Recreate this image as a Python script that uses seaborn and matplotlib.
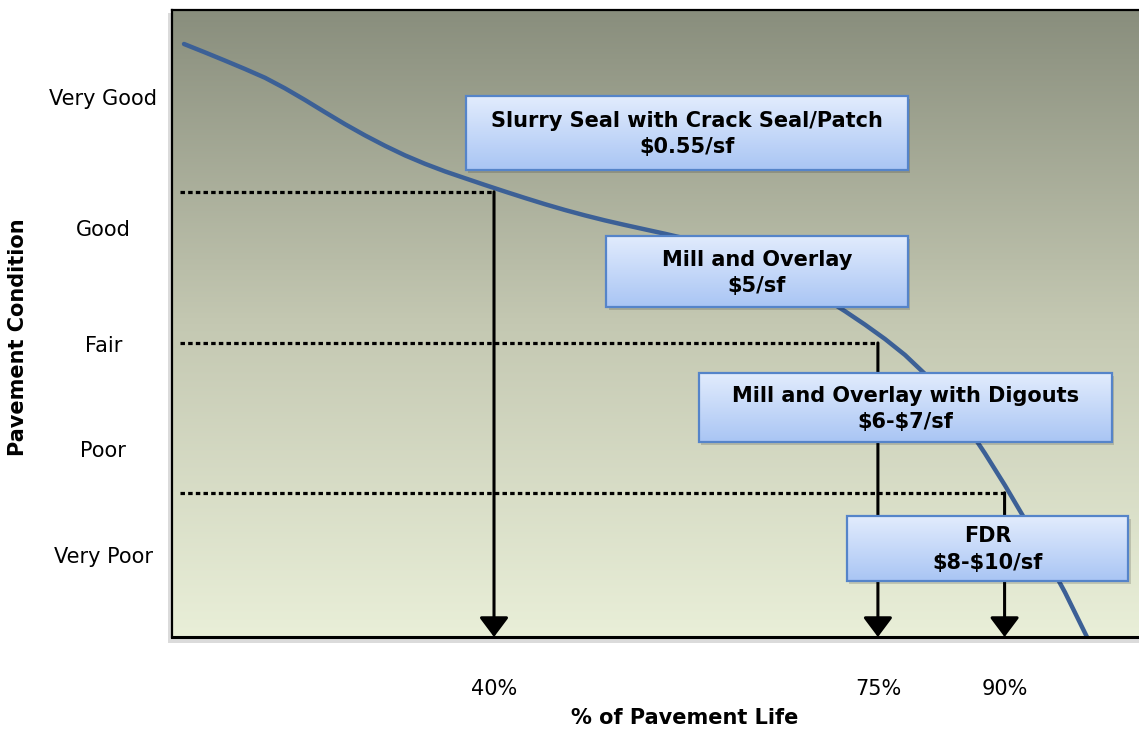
import numpy as np
import pandas as pd
import matplotlib
matplotlib.use('Agg')
import matplotlib.pyplot as plt
import seaborn as sns
from matplotlib.colors import LinearSegmentedColormap
from matplotlib.patches import Rectangle

# deterioration curve (x = position along life axis, y = condition)
life_pos = [1.24, 3.41, 5.48, 7.55, 9.62, 11.69, 13.75, 15.82, 17.89, 19.96, 22.03, 24.10,
            26.16, 28.23, 30.30, 32.37, 34.44, 36.50, 38.57, 40.64, 42.71, 44.78, 46.85,
            48.91, 50.98, 53.05, 55.12, 57.19, 59.26, 61.32, 63.39, 65.46, 67.53, 69.60,
            71.66, 73.73, 75.80, 77.87, 79.94, 82.01, 84.07, 86.14, 88.21, 90.28, 92.35, 94.62]
condition = [94.58, 93.24, 91.93, 90.59, 89.19, 87.50, 85.65, 83.70, 81.79, 80.00, 78.34, 76.81,
             75.47, 74.26, 73.17, 72.09, 71.04, 70.02, 69.03, 68.10, 67.24, 66.44, 65.71,
             65.01, 64.31, 63.57, 62.68, 61.63, 60.41, 59.04, 57.51, 55.82, 53.97, 51.96,
             49.82, 47.53, 44.98, 41.95, 38.28, 34.07, 29.28, 24.18, 18.76, 13.01, 7.11, 0.0]

condition_labels = ['Very Good', 'Good', 'Fair', 'Poor', 'Very Poor']
condition_pos = [86.1, 65.2, 46.7, 30.0, 13.1]

threshold_labels = ['40%', '75%', '90%']
threshold_pos = [33.3, 73.0, 86.1]
threshold_level = [71.0, 46.9, 23.0]

treatments = ['Slurry Seal with Crack Seal/Patch', 'Mill and Overlay',
              'Mill and Overlay with Digouts', 'FDR']
costs = ['$0.55/sf', '$5/sf', '$6-$7/sf', '$8-$10/sf']

df = pd.DataFrame({'life': life_pos, 'condition': condition})

sns.set_style('white')
plt.rcParams['font.family'] = ['DejaVu Sans']
plt.rcParams['text.color'] = 'black'
plt.rcParams['xtick.color'] = 'black'
plt.rcParams['ytick.color'] = 'black'

fig = plt.figure(figsize=(11.39, 7.30), dpi=100)
ax = fig.add_axes([172 / 1139, 93 / 730, 967 / 1139, 627 / 730])

# soft shadow behind the plot frame
fig.patches.append(Rectangle((168 / 1139, 87 / 730), 971 / 1139, 630 / 730,
                             transform=fig.transFigure, facecolor='#c4c4c4',
                             edgecolor='none', alpha=0.6, zorder=-1))

# background gradient
bg_cmap = LinearSegmentedColormap.from_list(
    'bg', [(0, '#e9efd8'), (0.5, '#c4c8b2'), (1, '#898e7d')])
grad = np.linspace(0, 1, 256).reshape(-1, 1)
ax.imshow(grad, extent=[0, 100, 0, 100], origin='lower', aspect='auto',
          cmap=bg_cmap, zorder=0)

sns.lineplot(data=df, x='life', y='condition', color='#3c6096', lw=3.2,
             sort=False, ax=ax, zorder=2)

# dotted levels and arrows down to the life axis
for xp, yl in zip(threshold_pos, threshold_level):
    ax.plot([0.8, xp], [yl, yl], color='black', lw=2.3,
            linestyle=(0, (1.4, 1.0)), zorder=3)
    ax.annotate('', xy=(xp, 0), xytext=(xp, yl),
                arrowprops=dict(arrowstyle='-|>,head_length=0.6,head_width=0.45',
                                color='black', lw=2.2, shrinkA=0, shrinkB=0,
                                mutation_scale=20), zorder=3)

# treatment boxes
box_cmap = LinearSegmentedColormap.from_list('box', ['#a9c5f4', '#e2ecfd'])
boxes = [(30.4, 76.1, 74.5, 86.3), (44.9, 76.1, 52.6, 64.0),
         (54.5, 97.2, 31.1, 42.1), (69.8, 98.9, 9.0, 19.3)]
for (x0, x1, y0, y1), name, cost in zip(boxes, treatments, costs):
    ax.add_patch(Rectangle((x0 + 0.25, y0 - 0.5), x1 - x0, y1 - y0,
                           facecolor='black', alpha=0.15, edgecolor='none', zorder=4))
    ax.imshow(grad, extent=[x0, x1, y0, y1], origin='lower', aspect='auto',
              cmap=box_cmap, zorder=5)
    ax.add_patch(Rectangle((x0, y0), x1 - x0, y1 - y0, facecolor='none',
                           edgecolor='#5584c9', lw=1.6, zorder=6))
    ax.text((x0 + x1) / 2, (y0 + y1) / 2 - 0.2, name + '\n' + cost, ha='center',
            va='center', fontsize=15, fontweight='bold', color='black',
            linespacing=1.4, parse_math=False, zorder=7)

ax.set_xlim(0, 100)
ax.set_ylim(0, 100)
ax.set_xlabel('')
ax.set_ylabel('')

ax.set_yticks(condition_pos, condition_labels, fontsize=15)
for lab in ax.get_yticklabels():
    lab.set_ha('center')
ax.tick_params(axis='y', length=0, pad=49.5)
ax.set_xticks(threshold_pos, threshold_labels, fontsize=15)
ax.tick_params(axis='x', length=0, pad=30)

for side in ['left', 'top']:
    ax.spines[side].set_color('black')
    ax.spines[side].set_linewidth(1.6)
ax.spines['bottom'].set_color('black')
ax.spines['bottom'].set_linewidth(2.2)
ax.spines['right'].set_visible(False)

fig.text(685 / 1139, 1 - 718 / 730, '% of Pavement Life', ha='center', va='center',
         fontsize=15, fontweight='bold')
fig.text(18 / 1139, 1 - 337 / 730, 'Pavement Condition', ha='center', va='center',
         rotation=90, fontsize=15, fontweight='bold')

fig.savefig('out.png', dpi=100)
